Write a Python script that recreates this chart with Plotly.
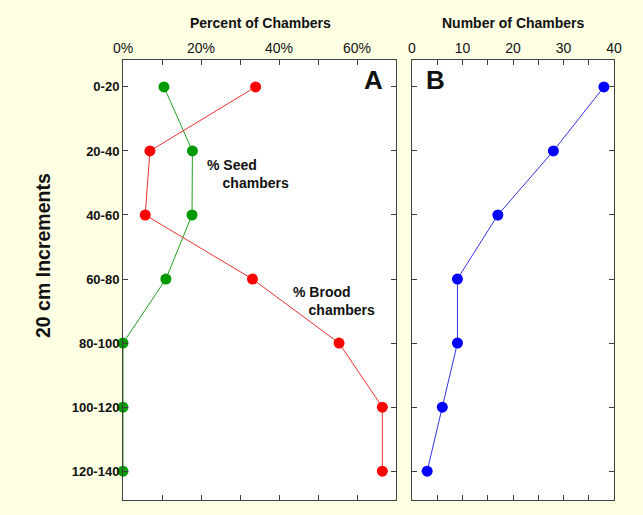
import plotly.graph_objects as go

depths = ["0-20", "20-40", "40-60", "60-80", "80-100", "100-120", "120-140"]
seed_pct = [10.5, 17.8, 17.7, 11.0, 0, 0, 0]
brood_pct = [34.0, 6.9, 5.7, 33.2, 55.4, 66.5, 66.5]
num_chambers = [38, 28, 17, 9, 9, 6, 3]

pct_ticks = [0, 10, 20, 30, 40, 50, 60, 70]
pct_labels = ["0%", "", "20%", "", "40%", "", "60%", ""]
num_ticks = [0, 5, 10, 15, 20, 25, 30, 35, 40]
num_labels = ["0", "", "10", "", "20", "", "30", "", "40"]

W, H = 643, 515
BG = "#FFFFE3"
AX = "#404040"
FONT = "Liberation Sans, Arial, sans-serif"

fig = go.Figure()
fig.add_trace(go.Scatter(x=seed_pct, y=depths, mode="lines+markers",
                         line=dict(color="#22A022", width=1),
                         marker=dict(color="#009900", size=11),
                         cliponaxis=False, xaxis="x", yaxis="y"))
fig.add_trace(go.Scatter(x=brood_pct, y=depths, mode="lines+markers",
                         line=dict(color="#F03030", width=1),
                         marker=dict(color="#FF0000", size=11),
                         cliponaxis=False, xaxis="x", yaxis="y"))
fig.add_trace(go.Scatter(x=num_chambers, y=depths, mode="lines+markers",
                         line=dict(color="#3333DD", width=1),
                         marker=dict(color="#0000FF", size=11),
                         cliponaxis=False, xaxis="x2", yaxis="y2"))

axcommon = dict(showgrid=False, zeroline=False, showline=True, linecolor=AX,
                linewidth=1, mirror="allticks", ticks="inside", ticklen=5,
                tickcolor=AX, tickwidth=1, automargin=False)

ytop = 1 - 60 / H
ybot = 1 - 500 / H

fig.update_layout(
    width=W, height=H,
    paper_bgcolor=BG, plot_bgcolor="white",
    margin=dict(l=0, r=0, t=0, b=0),
    showlegend=False,
    font=dict(family=FONT, color="#111111", size=13),
    xaxis=dict(domain=[123 / W, 396 / W], range=[0, 70], side="top",
               tickmode="array", tickvals=pct_ticks, ticktext=pct_labels,
               tickfont=dict(size=14), anchor="y", **axcommon),
    yaxis=dict(domain=[ybot, ytop], type="category", categoryorder="array",
               categoryarray=depths, range=[6.45, -0.42], anchor="x",
               tickfont=dict(size=13, family=FONT, weight="bold"), **axcommon),
    xaxis2=dict(domain=[412 / W, 614 / W], range=[0, 40], side="top",
                tickmode="array", tickvals=num_ticks, ticktext=num_labels,
                tickfont=dict(size=14), anchor="y2", **axcommon),
    yaxis2=dict(domain=[ybot, ytop], type="category", categoryorder="array",
                categoryarray=depths, range=[6.45, -0.42], anchor="x2",
                showticklabels=False, **axcommon),
)

def ann(text, x, y, size, bold=True, xanchor="center", align="left", angle=0):
    fig.add_annotation(text=text, x=x / W, y=1 - y / H, xref="paper", yref="paper",
                       showarrow=False, xanchor=xanchor, yanchor="middle", align=align,
                       textangle=angle,
                       font=dict(size=size, family=FONT, color="#111111",
                                 weight="bold" if bold else "normal"))

ann("Percent of Chambers", 260, 23, 14)
ann("Number of Chambers", 513, 23, 14)
ann("20 cm Increments", 43, 256, 19.5, angle=-90)
ann("A", 373, 80, 26)
ann("B", 435, 80, 26)
ann("% Seed<br>    chambers", 205, 174, 14, xanchor="left")
ann("% Brood<br>    chambers", 291, 301, 14, xanchor="left")

fig.write_html("out.html",
               config={"displayModeBar": False},
               post_script="document.body.style.margin='0';"
                           "document.body.style.background='#FFFFE3';")
